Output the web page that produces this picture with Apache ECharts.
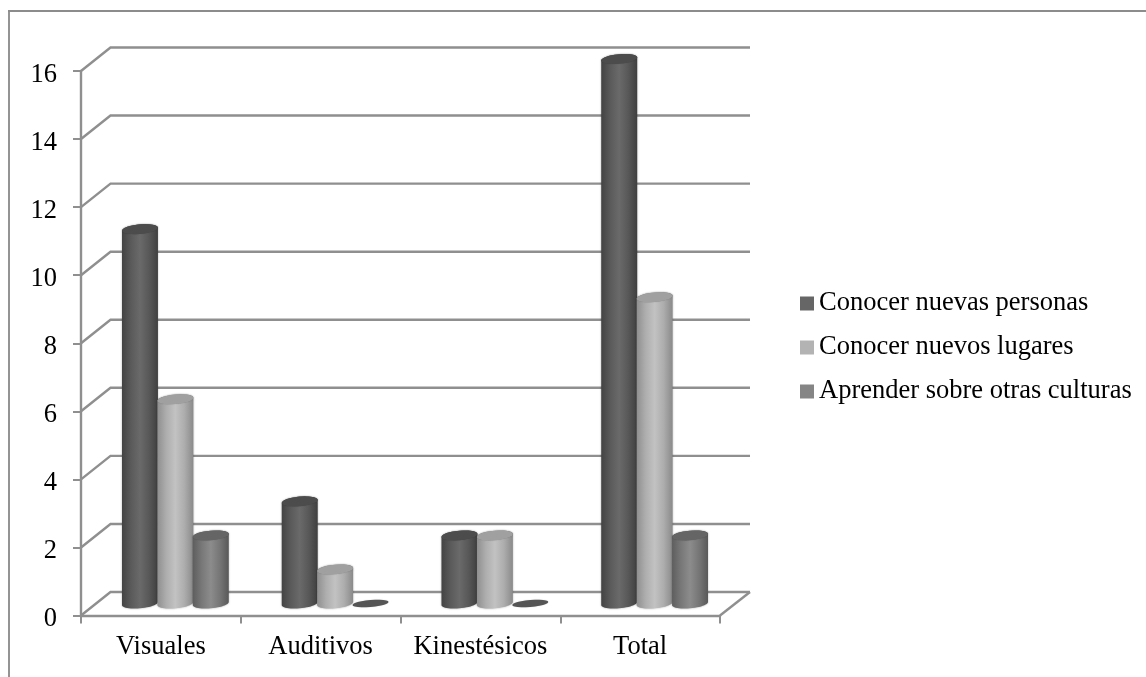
<!DOCTYPE html>
<html>
<head>
<meta charset="utf-8">
<style>html,body{margin:0;padding:0;background:#fff}#c{width:1146px;height:677px;filter:blur(0.3px)}</style>
<script src="https://cdn.jsdelivr.net/npm/echarts@6/dist/echarts.min.js"></script>
</head>
<body>
<div id="c"></div>
<script>
const categories = ['Visuales', 'Auditivos', 'Kinestésicos', 'Total'];
const seriesNames = ['Conocer nuevas personas', 'Conocer nuevos lugares', 'Aprender sobre otras culturas'];
const personas = [11, 3, 2, 16];
const lugares = [6, 1, 2, 9];
const culturas = [2, 0, 0, 2];
const yTicks = [0, 2, 4, 6, 8, 10, 12, 14, 16];

const FONT = '"Liberation Serif", "Times New Roman", serif';
const LINE = '#8f8f8f';
const WALL_DX = 29.5, WALL_DY = -23.5;
const BAR_DX = 14.5, BAR_DY = -12;
const RX_FRAC = 0.1125, RY = 4.8, TILT = 0.085;

const looks = [
  { legend: '#666666', cap: '#4c4c4c', grad: ['#434343', '#5a5a5a', '#6a6a6a', '#585858', '#3f3f3f'] },
  { legend: '#b3b3b3', cap: '#a0a0a0', grad: ['#8f8f8f', '#aeaeae', '#c2c2c2', '#adadad', '#8a8a8a'] },
  { legend: '#858585', cap: '#656565', grad: ['#5e5e5e', '#787878', '#8c8c8c', '#767676', '#585858'] }
];

function arcPoints(cx, cy, rx, ry, from, to) {
  const pts = [];
  const n = 24;
  for (let i = 0; i <= n; i++) {
    const t = from + (to - from) * i / n;
    const ex = rx * Math.cos(t);
    pts.push([cx + ex, cy + ry * Math.sin(t) - TILT * ex]);
  }
  return pts;
}

function barRenderer(seriesIndex) {
  const look = looks[seriesIndex];
  return function (params, api) {
    const catIndex = api.value(0);
    const value = api.value(1);
    const band = api.size([1, 0])[0];
    const rx = band * RX_FRAC;
    const base = api.coord([catIndex, 0]);
    const top = api.coord([catIndex, value]);
    const cx = base[0] + BAR_DX + (seriesIndex - 1) * rx * 2 * 0.985;
    const yBase = base[1] + BAR_DY;
    const yTop = top[1] + BAR_DY;
    const children = [];
    if (value > 0) {
      const pts = arcPoints(cx, yBase, rx, RY, 0, Math.PI).concat(arcPoints(cx, yTop, rx, RY, Math.PI, 2 * Math.PI));
      children.push({
        type: 'polygon',
        shape: { points: pts },
        style: {
          fill: new echarts.graphic.LinearGradient(0, 0, 1, 0, look.grad.map((c, i) => ({ offset: i / 4, color: c }))),
          shadowBlur: 2,
          shadowColor: 'rgba(0,0,0,0.35)'
        }
      });
    }
    children.push({
      type: 'polygon',
      shape: { points: arcPoints(cx, yTop, rx, value > 0 ? RY : 3.5, 0, 2 * Math.PI) },
      style: { fill: value > 0 ? look.cap : '#555555', shadowBlur: 1, shadowColor: 'rgba(0,0,0,0.25)' }
    });
    return { type: 'group', children: children };
  };
}

function wallRenderer(params, api) {
  const value = api.value(1);
  const y = api.coord([0, value])[1];
  const cs = params.coordSys;
  const left = cs.x, right = cs.x + cs.width;
  const pts = [[left, y], [left + WALL_DX, y + WALL_DY], [right + WALL_DX + 0.5, y + WALL_DY]];
  const children = [{ type: 'polyline', shape: { points: pts }, style: { fill: 'none', stroke: LINE, lineWidth: 2.4 } }];
  if (value === 0) {
    children.push({ type: 'line', shape: { x1: right, y1: y, x2: right + WALL_DX + 0.5, y2: y + WALL_DY }, style: { stroke: LINE, lineWidth: 2.4 } });
  }
  return { type: 'group', children: children };
}

function barSeries(i, values) {
  return {
    type: 'custom',
    name: seriesNames[i],
    z: 5 + i,
    clip: false,
    itemStyle: { color: looks[i].legend },
    encode: { x: 0, y: 1 },
    renderItem: barRenderer(i),
    data: values.map((v, k) => [k, v])
  };
}

const chart = echarts.init(document.getElementById('c'), null, { renderer: 'canvas' });
chart.setOption({
  animation: false,
  backgroundColor: '#ffffff',
  grid: { left: 81, right: 426, top: 71, bottom: 61.5, containLabel: false },
  xAxis: {
    type: 'category',
    data: categories,
    boundaryGap: true,
    axisLine: { show: true, lineStyle: { color: LINE, width: 2.4 } },
    axisTick: { show: true, alignWithLabel: false, length: 8, lineStyle: { color: LINE, width: 2 } },
    axisLabel: { color: '#000', fontFamily: FONT, fontSize: 26.5, margin: 18, interval: 0 },
    splitLine: { show: false }
  },
  yAxis: {
    type: 'value',
    min: 0,
    max: 16,
    interval: 2,
    axisLine: { show: true, lineStyle: { color: LINE, width: 2.4 } },
    axisTick: { show: true, length: 8, lineStyle: { color: LINE, width: 2 } },
    axisLabel: { color: '#000', fontFamily: FONT, fontSize: 26.5, margin: 24, verticalAlign: 'top', lineHeight: 8 },
    splitLine: { show: false }
  },
  legend: {
    show: true,
    orient: 'vertical',
    left: 800,
    top: 290,
    padding: 0,
    icon: 'rect',
    itemWidth: 14,
    itemHeight: 14,
    itemGap: 17,
    data: seriesNames,
    textStyle: { color: '#000', fontFamily: FONT, fontSize: 26.5, lineHeight: 24.5 }
  },
  graphic: [
    { type: 'line', shape: { x1: 9, y1: 11, x2: 9, y2: 677 }, style: { stroke: '#949494', lineWidth: 2 }, silent: true },
    { type: 'line', shape: { x1: 8, y1: 11, x2: 1146, y2: 11 }, style: { stroke: '#8c8c8c', lineWidth: 2 }, silent: true }
  ],
  series: [
    {
      type: 'custom',
      name: 'walls',
      z: 1,
      clip: false,
      encode: { x: 0, y: 1 },
      renderItem: wallRenderer,
      data: yTicks.map(v => [0, v])
    },
    barSeries(0, personas),
    barSeries(1, lugares),
    barSeries(2, culturas)
  ]
});
</script>
</body>
</html>
